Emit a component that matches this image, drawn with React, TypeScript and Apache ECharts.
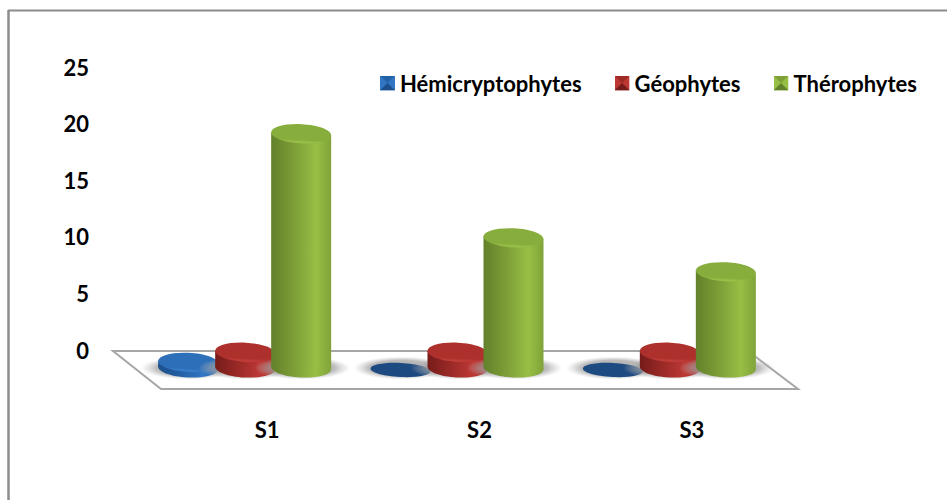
import React, { useEffect, useRef } from "react";
import * as echarts from "echarts";

// Station names and life-form counts
const stations = ["S1", "S2", "S3"];
const hemicryptophytes = [0.5, 0, 0];
const geophytes = [1.4, 1.4, 1.4];
const therophytes = [20.7, 11.5, 8.5];
const yTicks = [0, 5, 10, 15, 20, 25];

type Tone = { name: string; left: string; mid: string; light: string; right: string; top: string; topEdge: string; flat: string };

const tones: Tone[] = [
  { name: "Hémicryptophytes", left: "#1c4f8c", mid: "#2561a6", light: "#3376c4", right: "#2a69b2", top: "#2e6fb9", topEdge: "#3d82d2", flat: "#1d4a80" },
  { name: "Géophytes", left: "#751c1a", mid: "#9c2a27", light: "#bd3835", right: "#ab302d", top: "#ad302d", topEdge: "#c9413d", flat: "#751c1a" },
  { name: "Thérophytes", left: "#62812a", mid: "#7e9f38", light: "#98bf45", right: "#80a339", top: "#87ad3c", topEdge: "#a0c74b", flat: "#62812a" },
];

const seriesValues = [hemicryptophytes, geophytes, therophytes];
const barOffsets = [-79, -22, 34];
const halfWidth = 30;
const rimHeight = 9.5;
const floorDrop = 18;
const tilt = 0.05;

const bevelIcon = (t: Tone) =>
  "image://data:image/svg+xml;utf8," +
  encodeURIComponent(
    `<svg xmlns="http://www.w3.org/2000/svg" width="15" height="15">` +
      `<rect width="15" height="15" fill="${t.light}"/>` +
      `<polygon points="0,0 15,0 7.5,7.5" fill="${t.mid}"/>` +
      `<polygon points="0,15 15,15 7.5,7.5" fill="${t.left}"/>` +
      `</svg>`,
  );

const bodyGradient = (t: Tone) =>
  new echarts.graphic.LinearGradient(0, 0, 1, 0, [
    { offset: 0, color: t.left },
    { offset: 0.4, color: t.mid },
    { offset: 0.75, color: t.light },
    { offset: 1, color: t.right },
  ]);

const topGradient = (t: Tone) =>
  new echarts.graphic.LinearGradient(0, 0, 0, 1, [
    { offset: 0, color: t.top },
    { offset: 0.82, color: t.top },
    { offset: 1, color: t.topEdge },
  ]);

// Soft grey pool cast on the floor, fading out at its ends
const pool = new echarts.graphic.RadialGradient(0.5, 0.5, 0.5, [
  { offset: 0, color: "rgba(150,150,150,0.9)" },
  { offset: 0.68, color: "rgba(160,160,160,0.7)" },
  { offset: 1, color: "rgba(190,190,190,0)" },
]);

function drawFloor(_: any, api: any) {
  const left = api.coord([0, 0]);
  const size = api.size([1, 0]);
  const x0 = left[0] - size[0] / 2;
  const x1 = left[0] + size[0] * 2.5;
  const y = left[1];
  return {
    type: "polygon",
    shape: {
      points: [
        [x0 - 48, y + 1],
        [x1 - 50, y + 1],
        [x1, y + 39],
        [x0, y + 39],
      ],
    },
    style: { fill: "#ffffff", stroke: "#a6a6a6", lineWidth: 2 },
    silent: true,
  };
}

// Slightly rotated ellipse, as seen on a receding floor
const tiltedEllipse = (cx: number, cy: number, ry: number, fill: any) => ({
  type: "ellipse",
  x: cx,
  y: cy,
  rotation: -tilt,
  shape: { cx: 0, cy: 0, rx: halfWidth, ry },
  style: { fill },
});

const drawCylinder = (index: number) => (_: any, api: any) => {
  const t = tones[index];
  const base = api.coord([api.value(0), 0]);
  const top = api.coord([api.value(0), api.value(1)]);
  const cx = base[0] + barOffsets[index];
  const by = base[1] + floorDrop;
  const ty = top[1] + floorDrop;
  const lean = halfWidth * Math.sin(tilt);
  const shadow = {
    type: "ellipse",
    shape: { cx: cx + 1, cy: by, rx: halfWidth + 18, ry: rimHeight + 2 },
    style: { fill: pool },
    silent: true,
  };
  if (api.value(1) === 0) {
    return {
      type: "group",
      children: [shadow, tiltedEllipse(cx, by + 2, 7, t.flat)],
    };
  }
  return {
    type: "group",
    children: [
      shadow,
      tiltedEllipse(cx, by, rimHeight, bodyGradient(t)),
      {
        type: "polygon",
        shape: {
          points: [
            [cx - halfWidth, ty - lean],
            [cx + halfWidth, ty + lean],
            [cx + halfWidth, by + lean],
            [cx - halfWidth, by - lean],
          ],
        },
        style: { fill: bodyGradient(t) },
      },
      tiltedEllipse(cx, ty, rimHeight, topGradient(t)),
    ],
  };
};

export default function App() {
  const ref = useRef<HTMLDivElement>(null);
  useEffect(() => {
    const chart = echarts.init(ref.current!, undefined, { renderer: "svg" });
    const labelFont = { fontFamily: "Lato", fontWeight: "bold" as const, fontSize: 22, color: "#000000" };
    chart.setOption({
      animation: false,
      backgroundColor: "#ffffff",
      grid: { left: 161, right: 149, top: 67, bottom: 150 },
      graphic: [
        { type: "line", shape: { x1: 8.5, y1: 10, x2: 8.5, y2: 500 }, style: { stroke: "#8c8c8c", lineWidth: 2.5 }, silent: true },
        { type: "line", shape: { x1: 8, y1: 10.5, x2: 947, y2: 10.5 }, style: { stroke: "#8c8c8c", lineWidth: 2 }, silent: true },
      ],
      legend: {
        left: 380,
        top: 72,
        padding: 0,
        itemWidth: 15,
        itemHeight: 15,
        itemGap: 33,
        textStyle: labelFont,
        data: tones.map((t) => ({ name: t.name, icon: bevelIcon(t) })),
      },
      xAxis: {
        type: "category",
        data: stations,
        axisLine: { show: false },
        axisTick: { show: false },
        axisLabel: { ...labelFont, margin: 68 },
      },
      yAxis: {
        type: "value",
        min: yTicks[0],
        max: yTicks[yTicks.length - 1],
        interval: 5,
        axisLine: { show: false },
        axisTick: { show: false },
        splitLine: { show: false },
        axisLabel: { ...labelFont, margin: 72 },
      },
      series: [
        { type: "custom", name: "floor", coordinateSystem: "cartesian2d", data: [[0, 0]], renderItem: drawFloor, z: 1, silent: true },
        ...tones.map((t, i) => ({
          type: "custom",
          name: t.name,
          coordinateSystem: "cartesian2d",
          color: t.mid,
          z: 2 + i,
          data: stations.map((_, c) => [c, seriesValues[i][c]]),
          encode: { x: 0, y: 1 },
          renderItem: drawCylinder(i),
        })),
      ],
    });
    return () => chart.dispose();
  }, []);
  return <div ref={ref} style={{ position: "absolute", left: 0, top: 0, width: 947, height: 500 }} />;
}
